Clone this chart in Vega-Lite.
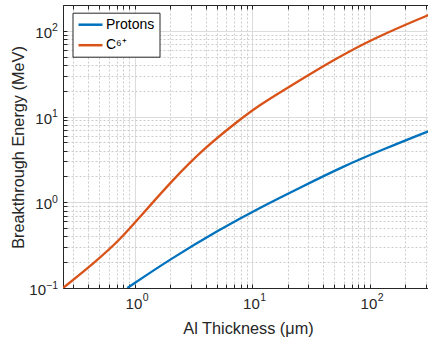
{
  "$schema": "https://vega.github.io/schema/vega-lite/v6.json",
  "width": 365,
  "height": 283,
  "autosize": {"type": "none"},
  "padding": {"left": 63, "top": 5, "right": 0, "bottom": 53},
  "background": "white",
  "config": {
    "font": "Liberation Sans",
    "view": {"stroke": null},
    "axis": {"domainColor": "#262626", "tickColor": "#262626", "labelColor": "#262626", "titleColor": "#262626", "titleFontWeight": "normal", "labelFont": "Liberation Sans", "titleFont": "Liberation Sans", "labelOverlap": false, "labelFlush": false, "labelBound": false}
  },
  "data": {
    "values": [
      {"series": "Protons", "thickness": 0.865, "energy": 0.1},
      {"series": "Protons", "thickness": 1.97, "energy": 0.214},
      {"series": "Protons", "thickness": 5.24, "energy": 0.479},
      {"series": "Protons", "thickness": 11.5, "energy": 0.86},
      {"series": "Protons", "thickness": 26.8, "energy": 1.53},
      {"series": "Protons", "thickness": 58.7, "energy": 2.6},
      {"series": "Protons", "thickness": 137, "energy": 4.27},
      {"series": "Protons", "thickness": 308, "energy": 6.65},
      {"series": "Protons", "thickness": 320, "energy": 6.79},
      {"series": "C⁶⁺", "thickness": 0.245, "energy": 0.1},
      {"series": "C⁶⁺", "thickness": 0.44, "energy": 0.19},
      {"series": "C⁶⁺", "thickness": 0.74, "energy": 0.36},
      {"series": "C⁶⁺", "thickness": 1.06, "energy": 0.63},
      {"series": "C⁶⁺", "thickness": 2.1, "energy": 1.83},
      {"series": "C⁶⁺", "thickness": 4.04, "energy": 4.46},
      {"series": "C⁶⁺", "thickness": 7.75, "energy": 9.1},
      {"series": "C⁶⁺", "thickness": 11.5, "energy": 13.6},
      {"series": "C⁶⁺", "thickness": 20.6, "energy": 22.2},
      {"series": "C⁶⁺", "thickness": 48, "energy": 45},
      {"series": "C⁶⁺", "thickness": 106, "energy": 81},
      {"series": "C⁶⁺", "thickness": 308, "energy": 151},
      {"series": "C⁶⁺", "thickness": 320, "energy": 154}
    ]
  },
  "layer": [
    {
      "mark": {"type": "line", "strokeWidth": 2.3, "clip": true, "interpolate": "basis"},
      "encoding": {
        "x": {
          "field": "thickness", "type": "quantitative",
          "scale": {"type": "log", "domain": [0.245, 313], "nice": false},
          "axis": {
            "title": "Al Thickness (μm)",
            "values": [0.3, 0.4, 0.5, 0.6, 0.7, 0.8, 0.9, 1, 2, 3, 4, 5, 6, 7, 8, 9, 10, 20, 30, 40, 50, 60, 70, 80, 90, 100, 200, 300],
            "labelExpr": "(datum.value == 1 || datum.value == 10 || datum.value == 100) ? '10' : ''",
            "labelFontSize": 15,
            "labelAlign": "right",
            "labelBaseline": "alphabetic",
            "labelOffset": 7,
            "labelPadding": 24,
            "tickSize": -4,
            "grid": true,
            "gridColor": {"condition": {"test": "datum.value == 1 || datum.value == 10 || datum.value == 100", "value": "#dcdcdc"}, "value": "#cccccc"},
            "gridDash": {"condition": {"test": "datum.value == 1 || datum.value == 10 || datum.value == 100", "value": []}, "value": [2, 2]},
            "titleFontSize": 16.3,
            "titleBaseline": "alphabetic",
            "titleAlign": "center",
            "titleX": 185,
            "titleY": 45
          }
        },
        "y": {
          "field": "energy", "type": "quantitative",
          "scale": {"type": "log", "domain": [0.1, 200], "nice": false},
          "axis": {
            "title": "Breakthrough Energy (MeV)",
            "values": [0.1, 0.2, 0.3, 0.4, 0.5, 0.6, 0.7, 0.8, 0.9, 1, 2, 3, 4, 5, 6, 7, 8, 9, 10, 20, 30, 40, 50, 60, 70, 80, 90, 100, 200],
            "labelExpr": "(datum.value == 0.1 || datum.value == 1 || datum.value == 10 || datum.value == 100) ? '10' : ''",
            "labelFontSize": 15,
            "labelAlign": "right",
            "labelBaseline": "alphabetic",
            "labelOffset": 6.5,
            "labelPadding": {"condition": {"test": "datum.value == 0.1", "value": 21.5}, "value": 15.5},
            "tickSize": -4,
            "grid": true,
            "gridColor": {"condition": {"test": "datum.value == 0.1 || datum.value == 1 || datum.value == 10 || datum.value == 100", "value": "#dcdcdc"}, "value": "#cccccc"},
            "gridDash": {"condition": {"test": "datum.value == 0.1 || datum.value == 1 || datum.value == 10 || datum.value == 100", "value": []}, "value": [2, 2]},
            "titleFontSize": 16.3,
            "titleBaseline": "alphabetic",
            "titleX": -40,
            "titleY": 142,
            "titleAlign": "center",
            "titleAngle": -90
          }
        },
        "color": {
          "field": "series", "type": "nominal",
          "scale": {"domain": ["Protons", "C⁶⁺"], "range": ["#0072BD", "#D95319"]},
          "legend": {
            "title": null,
            "orient": "none",
            "legendX": 9.5,
            "legendY": 7.7,
            "symbolType": "M-1,0H3",
            "symbolSize": 144,
            "symbolStrokeWidth": 2.5,
            "labelFont": "Liberation Sans",
            "labelFontSize": 14,
            "labelColor": "#000000",
            "labelOffset": 14,
            "padding": 4.5,
            "rowPadding": 5.5,
            "fillColor": "white",
            "strokeColor": "#262626",
            "cornerRadius": 0
          }
        }
      }
    },
    {
      "mark": {"type": "line", "opacity": 0, "clip": true},
      "encoding": {
        "x": {
          "field": "thickness", "type": "quantitative",
          "scale": {"type": "log", "domain": [0.245, 313], "nice": false},
          "axis": {
            "orient": "top",
            "title": null,
            "values": [0.3, 0.4, 0.5, 0.6, 0.7, 0.8, 0.9, 1, 2, 3, 4, 5, 6, 7, 8, 9, 10, 20, 30, 40, 50, 60, 70, 80, 90, 100, 200, 300],
            "labels": false,
            "tickSize": -4,
            "grid": false
          }
        },
        "y": {"field": "energy", "type": "quantitative", "scale": {"type": "log", "domain": [0.1, 200], "nice": false}, "axis": null},
        "detail": {"field": "series"}
      }
    },
    {
      "mark": {"type": "line", "opacity": 0, "clip": true},
      "encoding": {
        "x": {
          "field": "thickness", "type": "quantitative",
          "scale": {"type": "log", "domain": [0.245, 313], "nice": false},
          "axis": {
            "orient": "bottom",
            "title": null,
            "values": [1, 10, 100],
            "labelExpr": "datum.value == 1 ? '0' : datum.value == 10 ? '1' : '2'",
            "labelFontSize": 10.5,
            "labelAlign": "left",
            "labelBaseline": "alphabetic",
            "labelOffset": 7.5,
            "labelPadding": 12,
            "tickSize": 0,
            "tickOpacity": 0,
            "domain": false,
            "grid": false
          }
        },
        "y": {"field": "energy", "type": "quantitative", "scale": {"type": "log", "domain": [0.1, 200], "nice": false}, "axis": null},
        "detail": {"field": "series"}
      }
    },
    {
      "mark": {"type": "line", "opacity": 0, "clip": true},
      "encoding": {
        "x": {"field": "thickness", "type": "quantitative", "scale": {"type": "log", "domain": [0.245, 313], "nice": false}, "axis": null},
        "y": {
          "field": "energy", "type": "quantitative",
          "scale": {"type": "log", "domain": [0.1, 200], "nice": false},
          "axis": {
            "orient": "left",
            "title": null,
            "values": [0.1, 1, 10, 100],
            "labelExpr": "datum.value == 0.1 ? '−1' : datum.value == 1 ? '0' : datum.value == 10 ? '1' : '2'",
            "labelFontSize": 10.5,
            "labelAlign": "left",
            "labelBaseline": "alphabetic",
            "labelOffset": 0,
            "labelPadding": {"condition": {"test": "datum.value == 0.1", "value": 17.5}, "value": 11.5},
            "tickSize": 0,
            "tickOpacity": 0,
            "domain": false,
            "grid": false
          }
        },
        "detail": {"field": "series"}
      }
    }
  ],
  "resolve": {"scale": {"x": "independent", "y": "independent"}}
}
